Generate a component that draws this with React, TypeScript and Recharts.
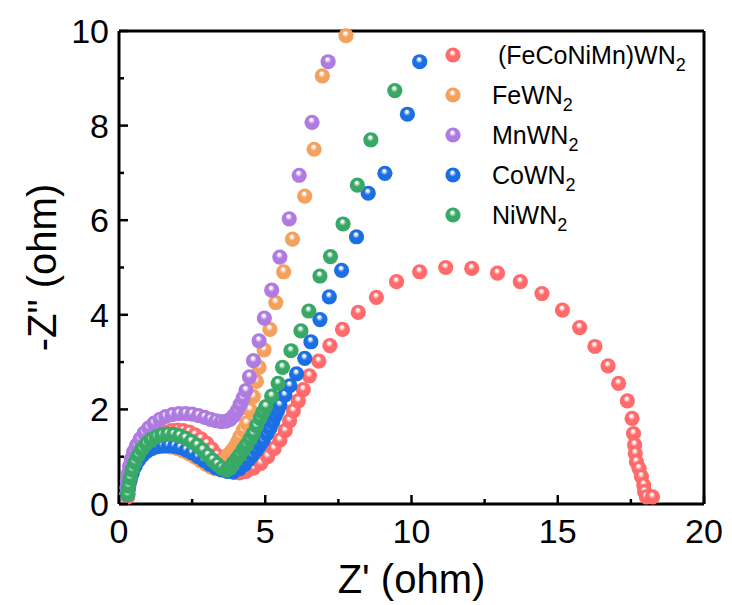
import React from "react";
import { ScatterChart, Scatter, XAxis, YAxis, ReferenceLine } from "recharts";

type Pt = [number, number];

const seriesNames = ["(FeCoNiMn)WN", "FeWN", "MnWN", "CoWN", "NiWN"];
const seriesColors = ["#ff6b6b", "#f4a15e", "#b07be0", "#1c6fe3", "#38a866"];

const xTicks = [0, 2.5, 5, 7.5, 10, 12.5, 15, 17.5, 20];
const yTicks = [0, 1, 2, 3, 4, 5, 6, 7, 8, 9, 10];

// Z' (ohm), -Z'' (ohm)
const feconimnPts: Pt[] = [
  [0.3, 0.15], [0.32, 0.3], [0.36, 0.45], [0.42, 0.6], [0.5, 0.75], [0.6, 0.9],
  [0.72, 1.04], [0.86, 1.17], [1.02, 1.29], [1.2, 1.39], [1.4, 1.47], [1.6, 1.52],
  [1.8, 1.55], [2.0, 1.56], [2.2, 1.55], [2.4, 1.52], [2.6, 1.46], [2.8, 1.38],
  [3.0, 1.28], [3.18, 1.16], [3.35, 1.03], [3.5, 0.91], [3.65, 0.8], [3.8, 0.72],
  [3.95, 0.67], [4.12, 0.66], [4.35, 0.69], [4.6, 0.76], [4.85, 0.86], [5.08, 1.0],
  [5.3, 1.17], [5.5, 1.35], [5.68, 1.55], [5.83, 1.76], [5.96, 1.97], [6.13, 2.18],
  [6.3, 2.42], [6.51, 2.71], [6.83, 3.02], [7.21, 3.35], [7.64, 3.69], [8.18, 4.05],
  [8.8, 4.37], [9.49, 4.7], [10.28, 4.91], [11.17, 5.0], [12.06, 4.98], [12.94, 4.88],
  [13.72, 4.7], [14.46, 4.45], [15.16, 4.1], [15.75, 3.73], [16.27, 3.33], [16.72, 2.92],
  [17.08, 2.55], [17.38, 2.18], [17.54, 1.81], [17.59, 1.49], [17.63, 1.25], [17.65, 1.07],
  [17.69, 0.89], [17.78, 0.75], [17.86, 0.58], [17.94, 0.4], [17.97, 0.26], [18.03, 0.15],
  [18.24, 0.15],
];

const fePts: Pt[] = [
  [0.3, 0.2], [0.32, 0.35], [0.36, 0.5], [0.42, 0.65], [0.5, 0.8], [0.6, 0.93],
  [0.72, 1.03], [0.86, 1.11], [1.02, 1.17], [1.2, 1.2], [1.4, 1.22], [1.6, 1.22],
  [1.8, 1.2], [2.0, 1.17], [2.2, 1.12], [2.4, 1.06], [2.6, 0.99], [2.8, 0.91],
  [2.98, 0.84], [3.15, 0.78], [3.3, 0.74], [3.43, 0.75], [3.52, 0.83], [3.6, 0.93],
  [3.73, 1.04], [3.85, 1.12], [3.96, 1.21], [4.05, 1.31], [4.13, 1.42], [4.25, 1.56],
  [4.36, 1.71], [4.48, 1.99], [4.59, 2.27], [4.7, 2.59], [4.79, 2.89], [4.96, 3.26],
  [5.16, 3.69], [5.36, 4.26], [5.63, 4.91], [5.93, 5.6], [6.35, 6.51], [6.67, 7.5],
  [6.95, 9.05], [7.76, 9.9],
];

const mnPts: Pt[] = [
  [0.26, 0.2], [0.27, 0.35], [0.29, 0.5], [0.32, 0.65], [0.36, 0.8], [0.42, 0.95],
  [0.5, 1.1], [0.6, 1.24], [0.72, 1.37], [0.86, 1.5], [1.02, 1.61], [1.2, 1.71],
  [1.4, 1.79], [1.6, 1.85], [1.82, 1.89], [2.05, 1.91], [2.28, 1.91], [2.5, 1.9],
  [2.72, 1.87], [2.93, 1.83], [3.13, 1.79], [3.32, 1.76], [3.5, 1.74], [3.66, 1.75],
  [3.8, 1.79], [3.93, 1.87], [4.04, 1.97], [4.14, 2.1], [4.24, 2.24], [4.34, 2.4],
  [4.46, 2.69], [4.6, 3.03], [4.79, 3.45], [4.97, 3.93], [5.22, 4.52], [5.5, 5.22],
  [5.82, 6.03], [6.16, 6.95], [6.6, 8.07], [7.15, 9.35],
];

const coPts: Pt[] = [
  [0.3, 0.2], [0.33, 0.35], [0.38, 0.5], [0.45, 0.65], [0.55, 0.8], [0.67, 0.93],
  [0.8, 1.03], [0.95, 1.11], [1.12, 1.17], [1.3, 1.21], [1.5, 1.23], [1.7, 1.23],
  [1.9, 1.22], [2.1, 1.19], [2.3, 1.14], [2.5, 1.08], [2.7, 1.0], [2.9, 0.92],
  [3.1, 0.84], [3.3, 0.77], [3.5, 0.72], [3.7, 0.69], [3.9, 0.68], [4.13, 0.75],
  [4.3, 0.84], [4.42, 0.93], [4.56, 1.03], [4.7, 1.14], [4.82, 1.25], [4.93, 1.35],
  [5.05, 1.48], [5.16, 1.6], [5.25, 1.73], [5.33, 1.85], [5.42, 1.97], [5.5, 2.09],
  [5.67, 2.3], [5.84, 2.5], [6.07, 2.75], [6.35, 3.08], [6.56, 3.43], [6.87, 3.9],
  [7.19, 4.38], [7.61, 4.94], [8.12, 5.65], [8.52, 6.57], [9.09, 6.99], [9.86, 8.24],
  [10.28, 9.35],
];

const niPts: Pt[] = [
  [0.3, 0.2], [0.33, 0.38], [0.38, 0.55], [0.45, 0.72], [0.54, 0.88], [0.65, 1.03],
  [0.78, 1.16], [0.93, 1.27], [1.1, 1.36], [1.28, 1.42], [1.47, 1.46], [1.67, 1.48],
  [1.87, 1.47], [2.07, 1.44], [2.27, 1.39], [2.47, 1.32], [2.67, 1.24], [2.86, 1.14],
  [3.04, 1.03], [3.2, 0.93], [3.36, 0.84], [3.52, 0.76], [3.68, 0.72], [3.8, 0.76],
  [3.9, 0.86], [4.02, 0.95], [4.13, 1.04], [4.25, 1.15], [4.36, 1.25], [4.48, 1.37],
  [4.59, 1.49], [4.7, 1.65], [4.82, 1.81], [4.92, 1.94], [5.02, 2.06], [5.22, 2.28],
  [5.44, 2.55], [5.59, 2.89], [5.88, 3.24], [6.22, 3.66], [6.49, 4.08], [6.87, 4.82],
  [7.23, 5.23], [7.66, 5.92], [8.15, 6.74], [8.61, 7.7], [9.43, 8.74],
];

const allSeries = [feconimnPts, fePts, mnPts, coPts, niPts];

const FONT = "'Liberation Sans', Arial, sans-serif";
const X_TICK_MARGIN = 12;
const Y_TICK_MARGIN = 10;
const BALL_R = 7.6;

function BallDefs() {
  return (
    <svg width={0} height={0} style={{ position: "absolute" }}>
      <defs>
        {seriesColors.map((c, i) => (
          <radialGradient key={c} id={`ball-${i}`} cx="0.5" cy="0.5" r="0.5" fx="0.45" fy="0.3">
            <stop offset="0" stopColor="#ffffff" />
            <stop offset="0.12" stopColor="#ffffff" stopOpacity={0.95} />
            <stop offset="0.45" stopColor={c} />
            <stop offset="1" stopColor={c} />
          </radialGradient>
        ))}
      </defs>
    </svg>
  );
}

const makeBall = (i: number) => (props: any) => (
  <circle cx={props.cx} cy={props.cy} r={BALL_R} fill={`url(#ball-${i})`} />
);

const XTick = (props: any) => {
  const { x, y, payload } = props;
  const v = payload.value;
  const major = v % 5 === 0;
  const axisY = y - X_TICK_MARGIN;
  return (
    <g>
      <line x1={x} x2={x} y1={axisY} y2={axisY - (major ? 9 : 5)} stroke="#000" strokeWidth={2.5} />
      {major && (
        <text x={x} y={axisY + 39} textAnchor="middle" fontSize={34} fontFamily={FONT} fill="#000">
          {v}
        </text>
      )}
    </g>
  );
};

const YTick = (props: any) => {
  const { x, y, payload } = props;
  const v = payload.value;
  const major = v % 2 === 0;
  const axisX = x + Y_TICK_MARGIN;
  return (
    <g>
      <line x1={axisX} x2={axisX + (major ? 9 : 5)} y1={y} y2={y} stroke="#000" strokeWidth={2.5} />
      {major && (
        <text x={axisX - 10} y={y + 12} textAnchor="end" fontSize={34} fontFamily={FONT} fill="#000">
          {v}
        </text>
      )}
    </g>
  );
};

function LegendOverlay() {
  return (
    <svg width={732} height={605} style={{ position: "absolute", left: 0, top: 0, pointerEvents: "none" }}>
      {seriesNames.map((name, i) => {
        const cy = 55 + i * 40;
        return (
          <g key={name}>
            <circle cx={453} cy={cy} r={BALL_R} fill={`url(#ball-${i})`} />
            <text x={i === 0 ? 498 : 492} y={cy + 9} fontSize={25} fontFamily={FONT} fill="#000">
              {name}
              <tspan fontSize={18} dy={7}>2</tspan>
            </text>
          </g>
        );
      })}
    </svg>
  );
}

export default function App() {
  return (
    <div style={{ position: "absolute", left: 0, top: 0, width: 732, height: 605, background: "#fff" }}>
      <BallDefs />
      <ScatterChart width={732} height={605} margin={{ top: 31, right: 28, bottom: 0, left: 0 }}>
        <XAxis
          type="number"
          dataKey="x"
          domain={[0, 20]}
          ticks={xTicks}
          interval={0}
          height={101}
          axisLine={{ stroke: "#000", strokeWidth: 3 }}
          tickLine={false}
          tickSize={0}
          tickMargin={X_TICK_MARGIN}
          tick={<XTick />}
          label={{
            value: "Z' (ohm)",
            position: "insideBottom",
            offset: 12,
            style: { fontSize: 40, fontFamily: FONT, fill: "#000" },
          }}
        />
        <YAxis
          type="number"
          dataKey="y"
          domain={[0, 10]}
          ticks={yTicks}
          interval={0}
          width={119}
          axisLine={{ stroke: "#000", strokeWidth: 3 }}
          tickLine={false}
          tickSize={0}
          tickMargin={Y_TICK_MARGIN}
          tick={<YTick />}
          label={{
            value: '-Z" (ohm)',
            angle: -90,
            position: "insideLeft",
            offset: 42,
            textAnchor: "middle",
            style: { fontSize: 40, fontFamily: FONT, fill: "#000", textAnchor: "middle" },
          }}
        />
        <ReferenceLine y={10} stroke="#000" strokeWidth={3} />
        <ReferenceLine x={20} stroke="#000" strokeWidth={3} />
        {allSeries.map((pts, i) => (
          <Scatter
            key={seriesNames[i]}
            name={seriesNames[i] + "2"}
            data={pts.map(([x, y]) => ({ x, y }))}
            fill={seriesColors[i]}
            shape={makeBall(i)}
            isAnimationActive={false}
          />
        ))}
      </ScatterChart>
      <LegendOverlay />
    </div>
  );
}
